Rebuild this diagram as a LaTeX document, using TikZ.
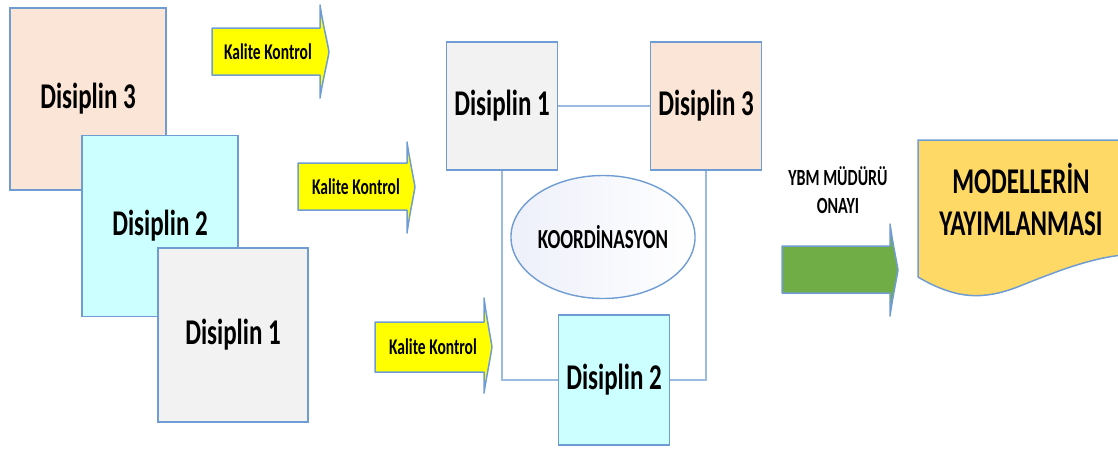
\documentclass[tikz,border=0pt]{standalone}
\usepackage{fontspec}
\setmainfont{Carlito}
\usetikzlibrary{shapes.geometric}
\definecolor{peach}{HTML}{FBE5D6}
\definecolor{cyanb}{HTML}{CCFFFF}
\definecolor{greyb}{HTML}{F2F2F2}
\definecolor{yel}{HTML}{FFFF00}
\definecolor{grn}{HTML}{70AD47}
\definecolor{gold}{HTML}{FFD966}
\definecolor{bord}{HTML}{6F9DD3}
\definecolor{linec}{HTML}{9CBBE0}
\definecolor{ellc}{HTML}{EEF0FA}
\newcommand{\tx}[2]{\scalebox{1}[1.45]{\fontsize{#1}{#1}\selectfont\bfseries #2}}
\tikzset{
  dbox/.style={draw=bord, line width=1.6pt, rectangle, inner sep=0pt, align=center},
  conn/.style={draw=linec, line width=2pt},
  arrowshape/.style={draw=bord, line width=1.5pt, line join=round},
  lbl/.style={inner sep=0pt, align=center}
}
\begin{document}
\begin{tikzpicture}[x=1pt,y=-1pt]
\useasboundingbox (0,0) rectangle (1118,448);
% left stack
\node[dbox, fill=peach, minimum width=156pt, minimum height=182pt] (L3) at (88,99) {\tx{25}{Disiplin 3}};
\node[dbox, fill=cyanb, minimum width=156pt, minimum height=181pt] (L2) at (160,226) {\tx{25}{Disiplin 2}};
\node[dbox, fill=greyb, minimum width=150pt, minimum height=174pt] (L1) at (233,335) {\tx{25}{Disiplin 1}};
% Kalite Kontrol arrows
\path[arrowshape, fill=yel] (212,28) -- (320,28) -- (320,5) .. controls (323,25) and (327,40) .. (329,52) .. controls (327,64) and (323,79) .. (320,98) -- (320,75) -- (212,75) -- cycle;
\node[lbl] (K1) at (268,52) {\tx{15.5}{Kalite Kontrol}};
\path[arrowshape, fill=yel] (298,163) -- (407,163) -- (407,142) .. controls (410,162) and (413,175) .. (415,187) .. controls (413,199) and (410,212) .. (407,233) -- (407,210) -- (298,210) -- cycle;
\node[lbl] (K2) at (356,187) {\tx{15.5}{Kalite Kontrol}};
\path[arrowshape, fill=yel] (375,322) -- (484,322) -- (484,298) .. controls (487,320) and (490,334) .. (492,347) .. controls (490,360) and (487,374) .. (484,393) -- (484,372) -- (375,372) -- cycle;
\node[lbl] (K3) at (433,347) {\tx{15.5}{Kalite Kontrol}};
% center block
\node[dbox, fill=greyb, minimum width=111pt, minimum height=128pt] (C1) at (502,106) {\tx{25}{Disiplin 1}};
\node[dbox, fill=peach, minimum width=111pt, minimum height=128pt] (C3) at (706,106) {\tx{25}{Disiplin 3}};
\node[dbox, fill=cyanb, minimum width=111pt, minimum height=130pt] (C2) at (614,380) {\tx{25}{Disiplin 2}};
\draw[conn] (C1.east) -- (C3.west);
\draw[conn] (C1.south) |- (C2.west);
\draw[conn] (C2.east) -| (C3.south);
\node[draw=bord, line width=1.4pt, ellipse, minimum width=168pt, minimum height=123pt, inner sep=0pt, left color=ellc, right color=white] (E) at (603,237) {\tx{19}{KOORDİNASYON}};
% approval arrow
\node[lbl] (Y) at (838,190) {\tx{16}{YBM MÜDÜRÜ}\\[11pt]\tx{16}{ONAYI}};
\path[arrowshape, fill=grn] (782,246) -- (890,246) -- (890,224) .. controls (893,245) and (896,258) .. (898,270) .. controls (896,282) and (893,295) .. (890,316) -- (890,293) -- (782,293) -- cycle;
% document shape
\begin{scope}
\clip (0,0) rectangle (1118,448);
\path[draw=bord, line width=1.5pt, fill=gold] (918,140) -- (1140,140) -- (1140,254) .. controls (1100,254) and (1060,270) .. (1020,286) .. controls (995,296) and (975,298) .. (955,293) .. controls (940,289) and (928,283) .. (918,277) -- cycle;
\end{scope}
\node[lbl] (M) at (1021,199) {\tx{25}{MODELLERİN}\\[17pt]\tx{25}{YAYIMLANMASI}};
\end{tikzpicture}
\end{document}
